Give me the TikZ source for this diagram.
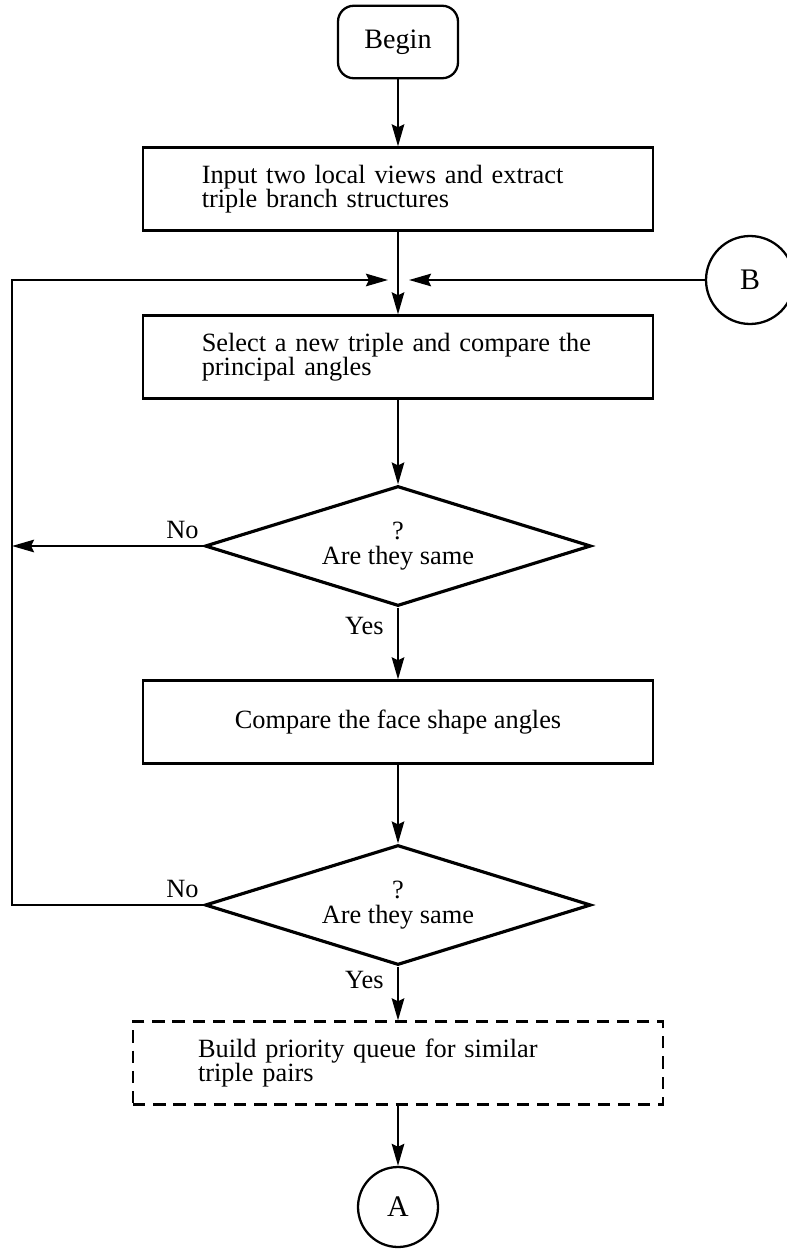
\documentclass[tikz,border=0pt]{standalone}
\usepackage{fontspec}
\setmainfont{Liberation Serif}
\usetikzlibrary{positioning, arrows.meta, shapes.geometric}
\tikzset{
    termstyle/.style={rectangle, rounded corners=9pt, draw, minimum width=2.4cm, minimum height=1.45cm, align=center, line width=1.3pt},
    procbox/.style={rectangle, draw, minimum width=10.2cm, minimum height=1.66cm, text width=#1, align=left, line width=1.3pt},
    procbox/.default=7.85cm,
    waitbox/.style={procbox=#1, minimum width=10.6cm, dash pattern=on 7pt off 4.5pt},
    decision/.style={diamond, draw, minimum width=7.72cm, minimum height=2.4cm, aspect=3.2, inner sep=0pt, align=center, line width=1.8pt},
    connector/.style={circle, draw, minimum size=#1, inner sep=0pt, line width=1.3pt},
    arr/.style={-{Stealth[length=0.44cm, width=0.25cm, inset=0.06cm]}, line width=1.3pt}
}

\begin{document}
\begin{tikzpicture}[x=0.02cm, y=-0.02cm, font=\fontsize{15}{14}\selectfont]
    \useasboundingbox (0,0) rectangle (787,1260);

    \node[termstyle] (begin) at (398,42) {\fontsize{16}{16}\selectfont Begin};
    \node[procbox] (b1) at (398,189) {Input two local views and extract\\triple branch structures};
    \node[procbox] (b2) at (398,357) {Select a new triple and compare the\\principal angles};
    \node[decision] (d1) at (398,546) {?\\Are they same};
    \node[rectangle, draw, minimum width=10.2cm, minimum height=1.66cm, line width=1.3pt] (b3) at (398,722) {Compare the face shape angles};
    \node[decision] (d2) at (398,905) {?\\Are they same};
    \node[waitbox=8.0cm] (b4) at (398,1063) {Build priority queue for similar\\triple pairs};
    \node[connector=1.6cm] (ca) at (398,1207) {\fontsize{17}{17}\selectfont A};
    \node[connector=1.76cm] (cb) at (750,280) {\fontsize{17}{17}\selectfont B};

    \coordinate (jl) at (388,280);
    \coordinate (jr) at (409,280);
    \coordinate (cl1) at (12,280);
    \coordinate (cl2) at (12,546);
    \coordinate (cl3) at (12,905);

    \draw[arr] (begin) -- (b1);
    \draw[arr] (b1) -- (b2);
    \draw[arr] (cb) -- (jr);
    \draw[arr] (b2) -- (d1);
    \draw[arr] (d1.west) -- node[above, pos=0.11] {No} (cl2);
    \draw[arr] (d1.south) -- node[left, pos=0.25, xshift=-0.15cm] {Yes} (b3);
    \draw[arr] (b3) -- (d2);
    \draw[arr] (d2.west) -- node[above, pos=0.11] {No} (cl3) -- (cl1) -- (jl);
    \draw[arr] (d2.south) -- node[left, pos=0.25, xshift=-0.15cm] {Yes} (b4);
    \draw[arr] (b4) -- (ca);
\end{tikzpicture}
\end{document}
